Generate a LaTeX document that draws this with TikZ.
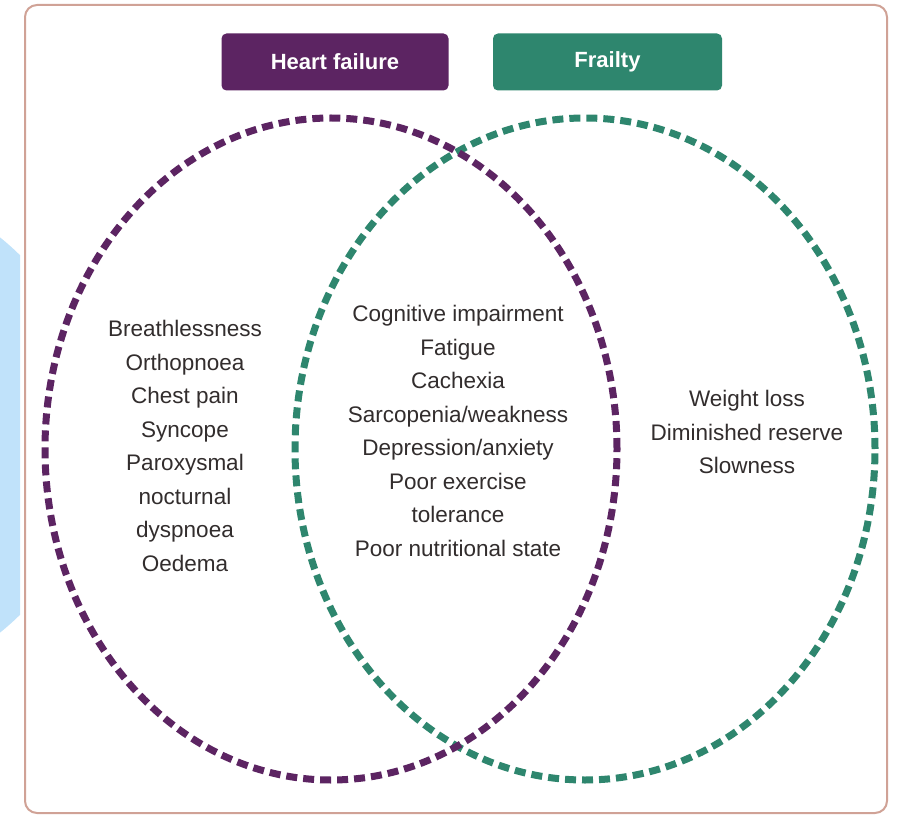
\documentclass[tikz,border=0pt]{standalone}
\usepackage{fontspec}
\setmainfont{Liberation Sans}
\usetikzlibrary{shapes.geometric}
\definecolor{hfpurple}{RGB}{92,36,98}
\definecolor{frteal}{RGB}{46,134,110}
\definecolor{framecol}{RGB}{208,162,150}
\definecolor{bgblue}{RGB}{192,226,250}
\definecolor{txtgray}{RGB}{50,45,45}
\tikzset{
  hdrbox/.style={rectangle, rounded corners=5pt, minimum width=227pt, minimum height=57pt, inner sep=0pt, text=white, font=\fontsize{22}{26}\selectfont\bfseries},
  vennset/.style={ellipse, inner sep=0pt, line width=7pt, dash pattern=on 11pt off 6pt},
  symlist/.style={align=center, text=txtgray, font=\fontsize{22.5}{33.5}\selectfont, inner sep=0pt},
}
\begin{document}
\begin{tikzpicture}[x=1pt,y=-1pt]
\useasboundingbox (0,0) rectangle (897,818);
% light blue background shape
\begin{scope}
\clip (0,0) rectangle (20,818);
\fill[bgblue] (-158,435) circle (253);
\end{scope}
% frame
\draw[framecol, line width=2pt, fill=white, rounded corners=12pt] (25,5) rectangle (887,813);
% header boxes
\node[hdrbox, fill=hfpurple] (hf) at (335,62) {Heart failure};
\node[hdrbox, fill=frteal, minimum width=229pt] (fr) at (607.5,62) {Frailty};
% venn sets
\node[vennset, draw=frteal, minimum width=580pt, minimum height=662pt] (frset) at (585,449) {};
\node[vennset, draw=hfpurple, minimum width=572pt, minimum height=662pt] (hfset) at (331,449) {};
% lists
\node[symlist, anchor=north] (hflist) at (185,320) {Breathlessness\\Orthopnoea\\Chest pain\\Syncope\\Paroxysmal\\nocturnal\\dyspnoea\\Oedema};
\node[symlist, anchor=north] (both) at (458,305) {Cognitive impairment\\Fatigue\\Cachexia\\Sarcopenia/weakness\\Depression/anxiety\\Poor exercise\\tolerance\\Poor nutritional state};
\node[symlist, anchor=north] (frlist) at (747,390) {Weight loss\\Diminished reserve\\Slowness};
\end{tikzpicture}
\end{document}
